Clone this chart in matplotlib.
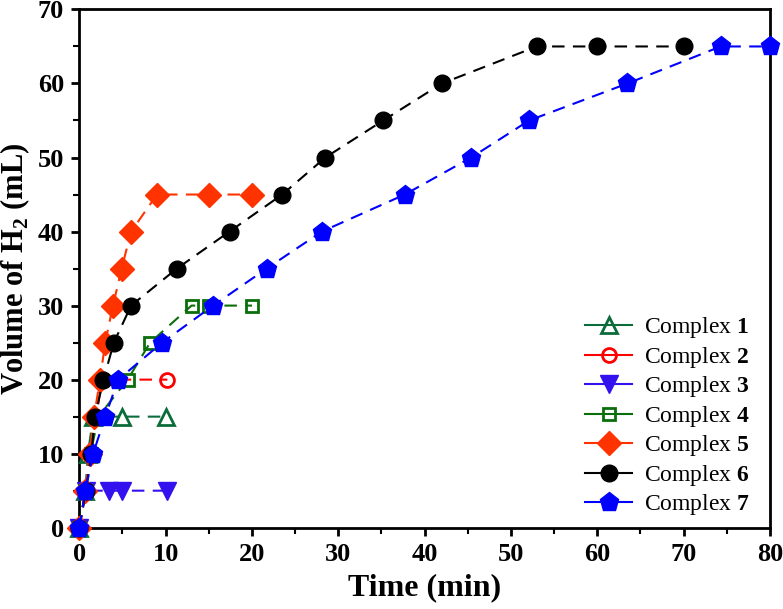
import matplotlib.pyplot as plt
from matplotlib.ticker import MultipleLocator
from matplotlib.legend_handler import HandlerLine2D

plt.rcParams['font.family'] = ['Liberation Serif', 'DejaVu Serif']
plt.rcParams['mathtext.fontset'] = 'custom'
plt.rcParams['mathtext.rm'] = 'Liberation Serif'
plt.rcParams['mathtext.bf'] = 'Liberation Serif:bold'

# data
t1 = [0, 0.7, 1.0, 1.6, 5.0, 10.0]
v1 = [0, 5, 10, 15, 15, 15]
t2 = [0, 0.7, 1.3, 2.0, 2.6, 10.2]
v2 = [0, 5, 10, 15, 20, 20]
t3 = [0, 0.8, 3.4, 4.9, 10.1]
v3 = [0, 5, 5, 5, 5]
t4 = [0, 0.7, 1.3, 2.2, 5.6, 8.2, 13.0, 15.0, 20.0]
v4 = [0, 5, 10, 15, 20, 25, 30, 30, 30]
t5 = [0, 0.7, 1.2, 1.7, 2.4, 3.0, 3.9, 4.9, 6.0, 9.0, 15.0, 20.0]
v5 = [0, 5, 10, 15, 20, 25, 30, 35, 40, 45, 45, 45]
t6 = [0, 0.75, 1.4, 1.8, 2.8, 4.0, 6.0, 11.3, 17.4, 23.5, 28.5, 35.2, 42.0, 53.0, 60.0, 70.0]
v6 = [0, 5, 10, 15, 20, 25, 30, 35, 40, 45, 50, 55, 60, 65, 65, 65]
t7 = [0, 0.7, 1.6, 3.0, 4.5, 9.6, 15.5, 21.7, 28.1, 37.7, 45.4, 52.1, 63.5, 74.3, 80.0]
v7 = [0, 5, 10, 15, 20, 25, 30, 35, 40, 45, 50, 55, 60, 65, 65]

fig = plt.figure(figsize=(7.83, 6.09), dpi=100)
ax = fig.add_axes([0.1013, 0.1335, 0.882, 0.851])

dash = (6, 4)
kw = dict(ls='--', dashes=dash, lw=1.5, clip_on=False)
ax.plot(t1, v1, color='#0b6b3a', marker='^', ms=11, mfc='none', mew=2,
        label=r'Complex $\mathbf{1}$', zorder=3, **kw)
ax.plot(t2, v2, color='#ff0000', marker='o', ms=10, mfc='none', mew=2,
        label=r'Complex $\mathbf{2}$', zorder=3, **kw)
ax.plot(t3, v3, color='#3311ee', marker='v', ms=13,
        label=r'Complex $\mathbf{3}$', zorder=3, **kw)
ax.plot(t4, v4, color='#0a6e0a', marker='s', ms=9, mfc='none', mew=2,
        label=r'Complex $\mathbf{4}$', zorder=3, **kw)
ax.plot(t5, v5, color='#ff3300', marker='D', ms=12,
        label=r'Complex $\mathbf{5}$', zorder=4, **kw)
ax.plot(t6, v6, color='black', marker='o', ms=12,
        label=r'Complex $\mathbf{6}$', zorder=5, **kw)
ax.plot(t7, v7, color='#0000ff', marker='p', ms=14,
        label=r'Complex $\mathbf{7}$', zorder=6, **kw)

ax.set_xlim(0, 80)
ax.set_ylim(0, 70)
ax.xaxis.set_major_locator(MultipleLocator(10))
ax.xaxis.set_minor_locator(MultipleLocator(5))
ax.yaxis.set_major_locator(MultipleLocator(10))
ax.yaxis.set_minor_locator(MultipleLocator(5))
ax.tick_params(which='major', direction='out', length=6, width=2, labelsize=19, pad=5)
ax.tick_params(which='minor', direction='out', length=4, width=1.5)
for lab in ax.get_xticklabels() + ax.get_yticklabels():
    lab.set_fontweight('bold')
for s in ax.spines.values():
    s.set_linewidth(2)

ax.set_xlabel('Time (min)', fontsize=23, fontweight='bold', labelpad=5)
ax.set_ylabel(r'Volume of H$_\mathbf{2}$ (mL)', fontsize=22, fontweight='bold', labelpad=4)


def solid(handle, orig):
    handle.update_from(orig)
    handle.set_linestyle('-')


ax.legend(loc='lower right', bbox_to_anchor=(0.995, -0.012), frameon=False,
          fontsize=17, handlelength=2.0, labelspacing=0.19, borderaxespad=0.3,
          handletextpad=0.5,
          handler_map={plt.Line2D: HandlerLine2D(update_func=solid)})

fig.savefig('out.png', dpi=100)
